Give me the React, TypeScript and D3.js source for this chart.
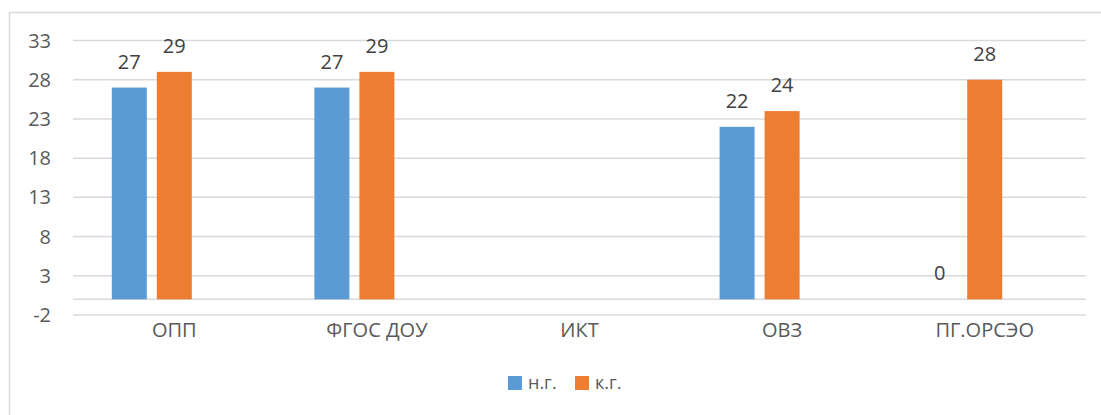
import React from "react";
import * as d3 from "d3";

const categories = ["ОПП", "ФГОС ДОУ", "ИКТ", "ОВЗ", "ПГ.ОРСЭО"];
const seriesNames = ["н.г.", "к.г."];
const seriesNG: (number | null)[] = [27, 27, null, 22, 0];
const seriesKG: (number | null)[] = [29, 29, null, 24, 28];
const yTicks = [-2, 3, 8, 13, 18, 23, 28, 33];
const colors = ["#5B9BD5", "#ED7D31"];

const W = 1101;
const H = 415;
const FONT = "'Open Sans', 'Noto Sans', sans-serif";

export default function App() {
  const x = d3.scaleBand<string>().domain(categories).range([73, 1086]).padding(0);
  const y = d3.scaleLinear().domain([-2, 33]).range([315, 40.5]);
  const barW = 35;
  const step = 45;
  const series = [seriesNG, seriesKG];
  const grid = "#d9d9d9";

  return (
    <svg
      width={W}
      height={H}
      style={{ position: "absolute", left: 0, top: 0, background: "#fff" }}
      fontFamily={FONT}
    >
      <rect x={9.5} y={12.5} width={1110} height={420} fill="#fff" stroke={grid} strokeWidth={1.5} />
      {yTicks.map((t) => (
        <g key={t}>
          <line x1={73} x2={1086} y1={y(t)} y2={y(t)} stroke={grid} strokeWidth={1.5} />
          <text x={51} y={y(t)} dy="0.35em" textAnchor="end" fontSize={20} fill="#595959">
            {t}
          </text>
        </g>
      ))}
      <line x1={73} x2={1086} y1={y(0)} y2={y(0)} stroke={grid} strokeWidth={1.5} />
      {categories.map((c, ci) => {
        const center = (x(c) as number) + x.bandwidth() / 2;
        return (
          <g key={c}>
            {series.map((s, si) => {
              const v = s[ci];
              if (v === null) return null;
              const bx = center - step + si * step - barW / 2;
              return (
                <g key={si}>
                  {v > 0 && (
                    <rect x={bx} y={y(v)} width={barW} height={y(0) - y(v)} fill={colors[si]} />
                  )}
                  <text
                    x={bx + barW / 2}
                    y={y(v) - 26}
                    dy="0.35em"
                    textAnchor="middle"
                    fontSize={20}
                    fill="#404040"
                  >
                    {v}
                  </text>
                </g>
              );
            })}
            <text x={center} y={330} dy="0.35em" textAnchor="middle" fontSize={20} fill="#595959">
              {c}
            </text>
          </g>
        );
      })}
      {seriesNames.map((n, i) => {
        const lx = 508 + i * 67;
        return (
          <g key={n}>
            <rect x={lx} y={376} width={14} height={14} fill={colors[i]} />
            <text x={lx + 20} y={383} dy="0.35em" fontSize={18} fill="#595959">
              {n}
            </text>
          </g>
        );
      })}
    </svg>
  );
}
